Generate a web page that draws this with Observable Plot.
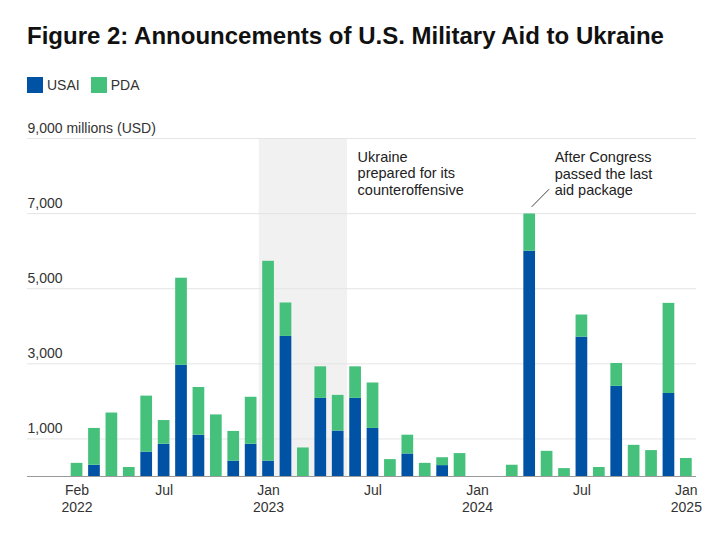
<!DOCTYPE html>
<html><head><meta charset="utf-8">
<script src="https://cdn.jsdelivr.net/npm/d3@7"></script>
<script src="https://cdn.jsdelivr.net/npm/@observablehq/plot@0.6"></script>
<style>
body{margin:0;background:#fff;font-family:"Liberation Sans",Arial,sans-serif;color:#222;}
#head{position:relative;height:105px;width:728px;}
#title{position:absolute;left:27px;top:23.5px;font-size:24px;font-weight:700;line-height:24px;color:#111;white-space:nowrap;}
#legend{position:absolute;left:27px;top:77px;display:flex;align-items:center;font-size:14px;color:#333;line-height:16px;}
.item{display:flex;align-items:center;margin-right:11px;}
.sw{width:16px;height:16px;margin-right:4px;}
</style></head><body>
<div id="head"><div id="title">Figure 2: Announcements of U.S. Military Aid to Ukraine</div><div id="legend"></div></div>
<div id="chart"></div>
<script>
const months = ["2022-02","2022-03","2022-04","2022-05","2022-06","2022-07","2022-08","2022-09","2022-10","2022-11","2022-12",
"2023-01","2023-02","2023-03","2023-04","2023-05","2023-06","2023-07","2023-08","2023-09","2023-10","2023-11","2023-12",
"2024-01","2024-02","2024-03","2024-04","2024-05","2024-06","2024-07","2024-08","2024-09","2024-10","2024-11","2024-12","2025-01"];
const usai = [0,300,0,0,650,860,2960,1100,0,410,860,
410,3730,0,2080,1210,2080,1280,0,600,0,290,0,
0,0,0,6000,0,0,3710,0,2400,0,0,2210,0];
const pda = [350,980,1690,240,1490,630,2320,1270,1640,790,1250,
5320,890,760,840,950,840,1210,450,500,350,210,610,
0,0,300,990,670,210,590,240,610,830,690,2400,480];
const seriesNames = ["USAI","PDA"];
const seriesColors = ["#0053a4","#46c17b"];
const shadeMonths = ["2023-01","2023-02","2023-03","2023-04","2023-05"];
const yTicks = [1000,3000,5000,7000,9000];
const yLabels = ["1,000","3,000","5,000","7,000","9,000 millions (USD)"];
const xTicks = ["2022-02","2022-07","2023-01","2023-07","2024-01","2024-07","2025-01"];
const xLabels = ["Feb\n2022","Jul","Jan\n2023","Jul","Jan\n2024","Jul","Jan\n2025"];

const rows = [];
months.forEach((m,i)=>{
  rows.push({month:m, series:"USAI", value:usai[i]});
  rows.push({month:m, series:"PDA", value:pda[i]});
});

const legend = document.getElementById("legend");
seriesNames.forEach((s,i)=>{
  const it = document.createElement("div"); it.className="item";
  it.innerHTML = `<div class="sw" style="background:${seriesColors[i]}"></div><span>${s}</span>`;
  legend.appendChild(it);
});

const chart = Plot.plot({
  width: 728, height: 430,
  marginTop: 33, marginBottom: 59, marginLeft: 27, marginRight: 32,
  style: {fontFamily: '"Liberation Sans", Arial, sans-serif', background: "#fff", overflow: "visible"},
  x: {type: "band", domain: months, paddingInner: 0, paddingOuter: 1.215, align: 0.966, round: false},
  y: {domain: [0, 9000], axis: null},
  color: {domain: seriesNames, range: seriesColors},
  marks: [
    Plot.barY(shadeMonths, {x: d => d, y1: 0, y2: 9000, fill: "#f1f1f1", insetLeft: -0.6, insetRight: -0.6}),
    Plot.ruleY(yTicks, {stroke: "#e4e4e4", strokeWidth: 1}),
    Plot.barY(rows, {x: "month", y: "value", fill: "series", order: seriesNames, insetLeft: 2.85, insetRight: 2.85}),
    Plot.ruleY([0], {stroke: "#9b9b9b", strokeWidth: 1}),
    Plot.text(yTicks, {y: d => d, text: (d, i) => yLabels[i], frameAnchor: "left", textAnchor: "start", dy: -10, fontSize: 14, fill: "#333"}),
    Plot.axisX(xTicks, {tickSize: 0, tickPadding: 7, tickFormat: d => xLabels[xTicks.indexOf(d)], fontSize: 14, lineHeight: 1.2, fill: "#333", label: null}),
    Plot.text(["Ukraine\nprepared for its\ncounteroffensive"], {x: () => "2023-06", y: () => 8700, text: d => d, textAnchor: "start", lineAnchor: "top", dx: 2, fontSize: 14.5, lineHeight: 1.14, fill: "#222"}),
    Plot.text(["After Congress\npassed the last\naid package"], {x: () => "2024-04", y: () => 8680, text: d => d, textAnchor: "start", lineAnchor: "top", dx: 25, fontSize: 14.5, lineHeight: 1.14, fill: "#222"}),
    Plot.link([0], {x1: () => "2024-04", x2: () => "2024-05", y1: () => 7180, y2: () => 7650, dx: 2, stroke: "#444", strokeWidth: 1})
  ]
});
document.getElementById("chart").appendChild(chart);
</script>
</body></html>
